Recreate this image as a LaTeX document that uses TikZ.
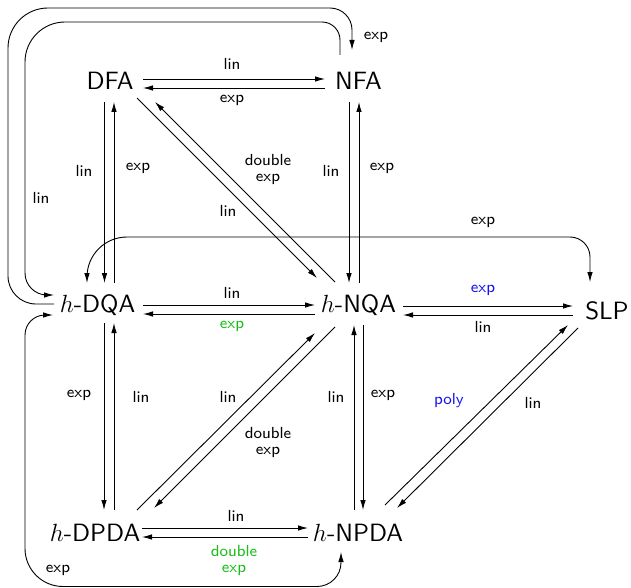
\documentclass[tikz,border=0pt]{standalone}
\usetikzlibrary{arrows.meta}
\definecolor{lblgreen}{RGB}{25,190,25}
\definecolor{lblblue}{RGB}{20,20,240}
\font\statefnt="[lmsans10-regular]:+tlig;" at 25pt
\font\labelfnt="[lmsans8-regular]:+tlig;" at 16pt
\tikzset{
  state/.style={inner sep=0pt, text height=17.4pt, text depth=0pt, font=\fontsize{25}{30}\selectfont\statefnt},
  lbl/.style={inner sep=0pt, align=center, font=\fontsize{16}{16}\selectfont\labelfnt},
  conn/.style={line width=0.9pt, -{Latex[length=10pt,width=5.5pt]}},
  both/.style={line width=0.9pt, {Latex[length=10pt,width=5.5pt]}-{Latex[length=10pt,width=5.5pt]}},
}
\begin{document}
\begin{tikzpicture}[x=1pt,y=-1pt]
\useasboundingbox (0,0) rectangle (631,588);
% states
\node[state] (dfa)  at (110,80.5)  {DFA};
\node[state] (nfa)  at (358.5,80.5) {NFA};
\node[state] (dqa)  at (97.5,304)  {$h$-DQA};
\node[state] (nqa)  at (358.5,304) {$h$-NQA};
\node[state] (slp)  at (607,311)   {SLP};
\node[state] (dpda) at (95,533)    {$h$-DPDA};
\node[state] (npda) at (358,533)   {$h$-NPDA};
% DFA <-> NFA
\draw[conn] ([shift={(33,-1.5)}]dfa.center) -- ([shift={(-33.5,-1.5)}]nfa.center);
\draw[conn] ([shift={(-33.5,7.5)}]nfa.center) -- ([shift={(33,7.5)}]dfa.center);
% DFA <-> DQA
\draw[conn] ([shift={(-5.5,21.5)}]dfa.center) -- ([shift={(7,-21)}]dqa.center);
\draw[conn] ([shift={(16.5,-21)}]dqa.center) -- ([shift={(4,21.5)}]dfa.center);
% NFA <-> NQA
\draw[conn] ([shift={(-9.5,21.5)}]nfa.center) -- ([shift={(-9.5,-21)}]nqa.center);
\draw[conn] ([shift={(0.5,-21)}]nqa.center) -- ([shift={(0.5,21.5)}]nfa.center);
% DFA <-> NQA
\draw[conn] ([shift={(27,17.5)}]dfa.center) -- ([shift={(-41.5,-26)}]nqa.center);
\draw[conn] ([shift={(-23.5,-22)}]nqa.center) -- ([shift={(45,21.5)}]dfa.center);
% loops DQA <-> NFA
\draw[conn] ([shift={(-43.5,0)}]dqa.center) [rounded corners=28pt] -- (8,304) [rounded corners=40pt] -- (8,8) [rounded corners=22pt] -- (352,8) -- ([shift={(-6.5,-30.5)}]nfa.center);
\draw[conn] ([shift={(-18.5,-25.5)}]nfa.center) [rounded corners=18pt] -- (340,22) [rounded corners=40pt] -- (25,22) [rounded corners=22pt] -- (25,295) -- ([shift={(-43.5,-9)}]dqa.center);
% DQA <-> SLP arc
\draw[both] ([shift={(-10.5,-21)}]dqa.center) [rounded corners=40pt] -- (87,237) [rounded corners=20pt] -- (590,237) -- ([shift={(-17,-29)}]slp.center);
% DQA <-> NQA
\draw[conn] ([shift={(45.5,1)}]dqa.center) -- ([shift={(-43.5,1)}]nqa.center);
\draw[conn] ([shift={(-43.5,10)}]nqa.center) -- ([shift={(45.5,10)}]dqa.center);
% NQA <-> SLP
\draw[conn] ([shift={(44.5,2)}]nqa.center) -- ([shift={(-34,-5)}]slp.center);
\draw[conn] ([shift={(-34,4)}]slp.center) -- ([shift={(44.5,11)}]nqa.center);
% DQA <-> DPDA
\draw[conn] ([shift={(6.5,19)}]dqa.center) -- ([shift={(9,-23)}]dpda.center);
\draw[conn] ([shift={(19,-23)}]dpda.center) -- ([shift={(16.5,19)}]dqa.center);
% DPDA <-> NQA
\draw[conn] ([shift={(42,-23)}]dpda.center) -- ([shift={(-43.5,29)}]nqa.center);
\draw[conn] ([shift={(-23.5,23)}]nqa.center) -- ([shift={(59,-25)}]dpda.center);
% NPDA <-> NQA
\draw[conn] ([shift={(-4,-23)}]npda.center) -- ([shift={(-4.5,21)}]nqa.center);
\draw[conn] ([shift={(4.5,21)}]nqa.center) -- ([shift={(5,-23)}]npda.center);
% NPDA <-> SLP
\draw[conn] ([shift={(27,-28)}]npda.center) -- ([shift={(-39,14)}]slp.center);
\draw[conn] ([shift={(-29,17)}]slp.center) -- ([shift={(39,-25)}]npda.center);
% DPDA <-> NPDA
\draw[conn] ([shift={(47,-5)}]dpda.center) -- ([shift={(-50,-5)}]npda.center);
\draw[conn] ([shift={(-50,4)}]npda.center) -- ([shift={(47,4)}]dpda.center);
% bottom loop DQA <-> NPDA
\draw[both] ([shift={(-44.5,11)}]dqa.center) [rounded corners=20pt] -- (25,315) [rounded corners=38pt] -- (25,586.5) [rounded corners=24pt] -- (341,586.5) -- ([shift={(-17,19)}]npda.center);
% labels
\node[lbl] (l1) at (232,64) {lin};
\node[lbl] (l2) at (232,100) {exp};
\node[lbl] (l3) at (84,171) {lin};
\node[lbl] (l4) at (138,168) {exp};
\node[lbl] (l5) at (331,171) {lin};
\node[lbl] (l6) at (382,168) {exp};
\node[lbl] (l7) at (268,170) {double\\exp};
\node[lbl] (l8) at (228,211) {lin};
\node[lbl] (l9) at (376,37) {exp};
\node[lbl] (l10) at (41,198) {lin};
\node[lbl] (l11) at (483,222) {exp};
\node[lbl] (l12) at (232,293) {lin};
\node[lbl, text=lblgreen] (l13) at (232,326) {exp};
\node[lbl, text=lblblue] (l14) at (483,290) {exp};
\node[lbl] (l15) at (483,327) {lin};
\node[lbl] (l16) at (79,395) {exp};
\node[lbl] (l17) at (141,397) {lin};
\node[lbl] (l18) at (228,397) {lin};
\node[lbl] (l19) at (268,442) {double\\exp};
\node[lbl] (l20) at (336,397) {lin};
\node[lbl] (l21) at (383,395) {exp};
\node[lbl, text=lblblue] (l22) at (449,401) {poly};
\node[lbl] (l23) at (533,403) {lin};
\node[lbl] (l24) at (236,516) {lin};
\node[lbl, text=lblgreen] (l25) at (234,560) {double\\exp};
\node[lbl] (l26) at (58,570) {exp};
\end{tikzpicture}
\end{document}
